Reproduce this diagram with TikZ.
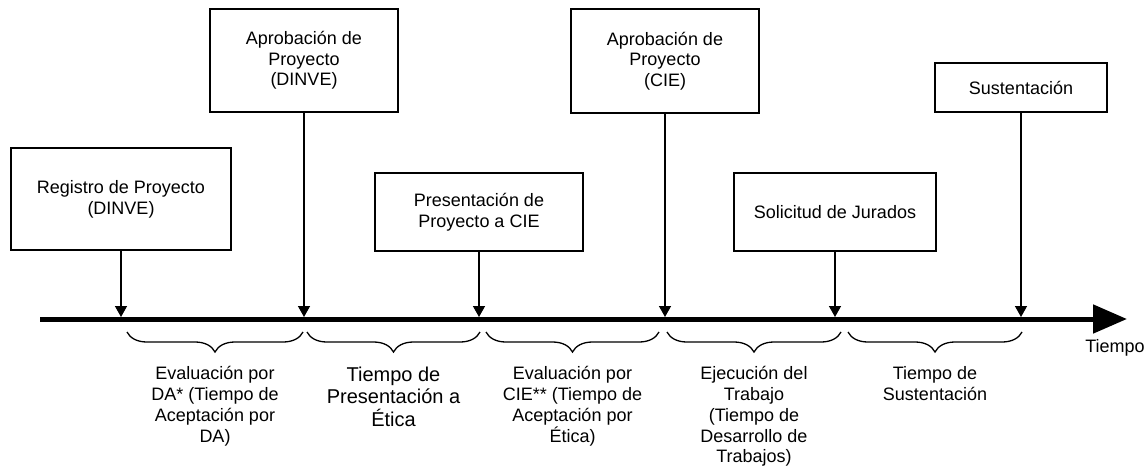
\documentclass[tikz,border=0pt]{standalone}
\usepackage{fontspec}
\setmainfont{Liberation Sans}
\usetikzlibrary{arrows.meta,decorations.pathreplacing,positioning}

\begin{document}
\begin{tikzpicture}[x=1pt,y=-1pt,font=\fontsize{18}{20.7}\selectfont,
    hito/.style={-{Triangle[length=11pt,width=12pt]},line width=1.4pt},
    llave/.style={decorate,decoration={brace,mirror,amplitude=20pt},line width=1.3pt},
    etiqueta/.style={below=34pt,inner sep=0pt,align=center}]
      \useasboundingbox (0,0) rectangle (1148,466);
      \begin{scope}[every node/.style={draw,line width=1.6pt,align=center,inner sep=0pt}]
        \node (R) [minimum width=220pt,minimum height=102pt] at (121,199) {Registro de Proyecto\\(DINVE)};
        \node (AD) [minimum width=188pt,minimum height=103pt] at (304,60.5) {Aprobación de\\Proyecto\\(DINVE)};
        \node (PC) [minimum width=208pt,minimum height=78pt] at (479,212) {Presentación de\\Proyecto a CIE};
        \node (AC) [minimum width=188pt,minimum height=104pt] at (665,61) {Aprobación de\\Proyecto\\(CIE)};
        \node (SJ) [minimum width=202pt,minimum height=78pt] at (835,212) {Solicitud de Jurados};
        \node (S) [minimum width=172pt,minimum height=49pt] at (1021,87.5) {Sustentación};
      \end{scope}
      % linea de tiempo
      \coordinate (inicio) at (40,319);
      \coordinate (fin) at (1127,319);
      \draw[line width=5pt,-{Triangle[length=34pt,width=28pt]}] (inicio) -- (fin);
      \node (T) at (1115,348) {Tiempo};
      \begin{scope}[every edge/.style={draw,hito}]
        \path (R) edge (R |- 0,317);
        \path (AD) edge (AD |- 0,317);
        \path (PC) edge (PC |- 0,317);
        \path (AC) edge (AC |- 0,317);
        \path (SJ) edge (SJ |- 0,317);
        \path (S) edge (S |- 0,317);
      \end{scope}
      % intervalos
      \draw[llave] (127,332) -- node[etiqueta] (E1) {Evaluación por\\DA* (Tiempo de\\Aceptación por\\DA)} (303,332);
      \draw[llave] (307,332) -- node[etiqueta,font=\fontsize{20}{22.5}\selectfont] (E2) {Tiempo de\\Presentación a\\Ética} (480,332);
      \draw[llave] (486,332) -- node[etiqueta] (E3) {Evaluación por\\CIE** (Tiempo de\\Aceptación por\\Ética)} (659,332);
      \draw[llave] (667,332) -- node[etiqueta] (E4) {Ejecución del\\Trabajo\\(Tiempo de\\Desarrollo de\\Trabajos)} (841,332);
      \draw[llave] (848,332) -- node[etiqueta] (E5) {Tiempo de\\Sustentación} (1022,332);
    \end{tikzpicture}
\end{document}
